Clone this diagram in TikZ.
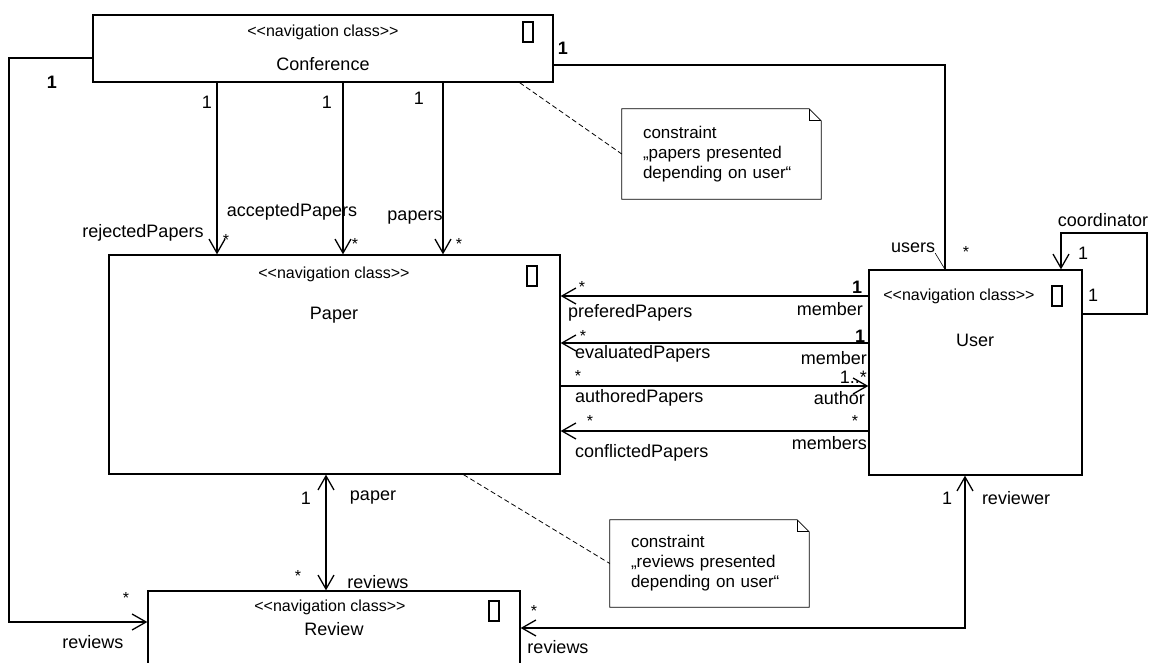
\documentclass[tikz,border=0pt]{standalone}
\usepackage{fontspec}
\setmainfont{Liberation Sans}
\usetikzlibrary{arrows.meta,positioning,calc}

\newcommand{\navstereo}{{<}{<}navigation class{>}{>}}

\begin{document}
\begin{tikzpicture}[x=1pt, y=-1pt,
    classbox/.style={rectangle, draw, line width=1.3pt, inner sep=0pt},
    stereo/.style={font=\fontsize{16}{18}\selectfont, inner sep=0pt},
    cname/.style={font=\fontsize{18}{20}\selectfont, inner sep=0pt},
    icon/.style={rectangle, draw, line width=1.2pt, minimum width=10pt, minimum height=20pt, inner sep=0pt},
    lbl/.style={font=\fontsize{18}{20}\selectfont, inner sep=0pt},
    mult/.style={font=\fontsize{16}{18}\selectfont, inner sep=0pt},
    note/.style={rectangle, inner sep=0pt, text width=157pt, align=left, font=\fontsize{17}{20}\selectfont},
    assoc/.style={line width=1.3pt},
    nav/.style={assoc, -{Straight Barb[length=14pt,width=16pt]}},
    nav2/.style={assoc, {Straight Barb[length=14pt,width=16pt]}-{Straight Barb[length=14pt,width=16pt]}},
    anchorline/.style={dash pattern=on 5pt off 3pt, line width=0.8pt},
]
    \useasboundingbox (0,0) rectangle (1160,662);

    % Classes
    \node[classbox, minimum width=460pt, minimum height=67pt] (conf) at (323,48.5) {};
    \node[stereo] (confst) at (323,32) {\navstereo};
    \node[cname] (confnm) at (323,64) {Conference};
    \node[icon] (conficon) at (528,32) {};

    \node[classbox, minimum width=451pt, minimum height=219pt] (paper) at (334.5,364.5) {};
    \node[stereo] (paperst) at (334,274) {\navstereo};
    \node[cname] (papernm) at (334,315) {Paper};
    \node[icon] (papericon) at (532,276) {};

    \node[classbox, minimum width=213pt, minimum height=205pt] (user) at (975.5,372.5) {};
    \node[stereo] (userst) at (959,296) {\navstereo};
    \node[cname] (usernm) at (975,340) {User};
    \node[icon] (usericon) at (1057,296) {};

    \node[classbox, minimum width=372pt, minimum height=110pt] (review) at (334,646) {};
    \node[stereo] (reviewst) at (330,607) {\navstereo};
    \node[cname] (reviewnm) at (334,629) {Review};
    \node[icon] (reviewicon) at (494,611) {};

    % Notes
    \node[note, minimum width=199pt, minimum height=90pt] (note1) at (721.5,154) {constraint\\„papers presented\\depending on user“};
    \draw[line width=0.8pt] (note1.south west) -- (note1.north west) -- ([xshift=-12pt]note1.north east) -- ([yshift=-12pt]note1.north east) -- (note1.south east) -- cycle;
    \draw[line width=0.8pt] ([xshift=-12pt]note1.north east) |- ([yshift=-12pt]note1.north east);

    \node[note, minimum width=199pt, minimum height=87pt] (note2) at (709.5,563.5) {constraint\\„reviews presented\\depending on user“};
    \draw[line width=0.8pt] (note2.south west) -- (note2.north west) -- ([xshift=-12pt]note2.north east) -- ([yshift=-12pt]note2.north east) -- (note2.south east) -- cycle;
    \draw[line width=0.8pt] ([xshift=-12pt]note2.north east) |- ([yshift=-12pt]note2.north east);

    \draw[anchorline] ($(conf.south east)+(-34,0)$) -- (note1.west);
    \draw[anchorline] ($(paper.south)+(129,0)$) -- (note2.west);

    % Conference -> Paper
    \coordinate (xrej) at (217,0);
    \coordinate (xacc) at (343,0);
    \coordinate (xpap) at (443,0);
    \draw[nav] (conf.south -| xrej) -- (paper.north -| xrej);
    \draw[nav] (conf.south -| xacc) -- (paper.north -| xacc);
    \draw[nav] (conf.south -| xpap) -- (paper.north -| xpap);
    \node[lbl] (rej1) at (207,102) {1};
    \node[lbl] (acc1) at (327,102) {1};
    \node[lbl] (pap1) at (419,98) {1};
    \node[mult] (rejm) at (226,240) {*};
    \node[mult] (accm) at (355,244) {*};
    \node[mult] (papm) at (459,244) {*};
    \node[lbl] (rejrole) at (143,233) {rejectedPapers};
    \node[lbl] (accrole) at (292,212) {acceptedPapers};
    \node[lbl] (paprole) at (415,218) {papers};

    % Conference -> Review
    \coordinate (lft1) at (9,58);
    \coordinate (lft2) at (9,622);
    \draw[nav] (conf.west |- lft1) -- (lft1) -- (lft2) -- (review.west |- lft2);
    \node[lbl] (lftone) at (52,82) {\textbf{1}};
    \node[mult] (lftm) at (126,598) {*};
    \node[lbl] (lftrole) at (93,642) {reviews};

    % Conference -- User
    \coordinate (cu) at (945,65);
    \draw[assoc] (conf.east |- cu) -- (cu) -- (user.north -| cu);
    \node[lbl] (cuone) at (563,48) {\textbf{1}};
    \node[lbl] (users) at (913,248) {users};
    \node[mult] (cum) at (966,252) {*};
    \draw[line width=0.6pt] (users.south east) -- (user.north -| cu);

    % User self association
    \coordinate (lp1) at (1147,314);
    \coordinate (lp2) at (1061,233);
    \draw[nav] (user.east |- lp1) -- (lp1) |- (lp2) -- (user.north -| lp2);
    \node[lbl] (coord) at (1103,220) {coordinator};
    \node[lbl] (lpone) at (1083,253) {1};
    \node[lbl] (lptwo) at (1093,295) {1};

    % Paper -- User
    \coordinate (r1) at (700,296);
    \coordinate (r2) at (700,343);
    \coordinate (r3) at (700,386);
    \coordinate (r4) at (700,431);
    \draw[nav] (user.west |- r1) -- (paper.east |- r1);
    \draw[nav] (user.west |- r2) -- (paper.east |- r2);
    \draw[nav] (paper.east |- r3) -- (user.west |- r3);
    \draw[nav] (user.west |- r4) -- (paper.east |- r4);

    \node[mult] (r1m) at (582,287) {*};
    \node[lbl] (r1one) at (857,287) {\textbf{1}};
    \node[lbl, anchor=west] (r1a) at (568,313) {preferedPapers};
    \node[lbl, anchor=east] (r1b) at (863,309) {member};

    \node[mult] (r2m) at (583,336) {*};
    \node[lbl] (r2one) at (860,336) {\textbf{1}};
    \node[lbl, anchor=west] (r2a) at (575,354) {evaluatedPapers};
    \node[lbl, anchor=east] (r2b) at (867,358) {member};

    \node[mult] (r3m) at (578,376) {*};
    \node[lbl, anchor=east] (r3one) at (867,377) {1..*};
    \node[lbl, anchor=west] (r3a) at (575,398) {authoredPapers};
    \node[lbl, anchor=east] (r3b) at (865,398) {author};

    \node[mult] (r4m) at (590,421) {*};
    \node[mult] (r4n) at (855,421) {*};
    \node[lbl, anchor=west] (r4a) at (575,453) {conflictedPapers};
    \node[lbl, anchor=east] (r4b) at (867,443) {members};

    % Paper -- Review
    \coordinate (xpr) at (326,0);
    \draw[nav2] (paper.south -| xpr) -- (review.north -| xpr);
    \node[lbl] (prone) at (306,498) {1};
    \node[lbl] (prrole) at (373,498) {paper};
    \node[mult] (prm) at (298,576) {*};
    \node[lbl] (prrev) at (378,582) {reviews};

    % Review -- User
    \coordinate (rvu) at (965,628);
    \draw[nav2] (review.east |- rvu) -- (rvu) -- (user.south -| rvu);
    \node[mult] (rvm) at (534,611) {*};
    \node[lbl] (rvrole) at (558,647) {reviews};
    \node[lbl] (rvone) at (947,498) {1};
    \node[lbl] (rvuser) at (1016,498) {reviewer};
\end{tikzpicture}
\end{document}
